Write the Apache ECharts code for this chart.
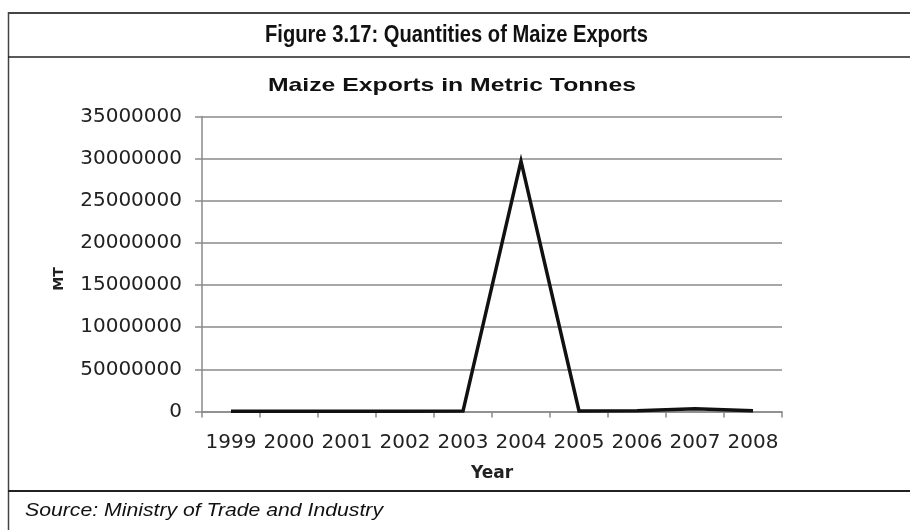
<!DOCTYPE html>
<html>
<head>
<meta charset="utf-8">
<script src="https://cdn.jsdelivr.net/npm/echarts@6/dist/echarts.min.js"></script>
<style>
  html, body { margin: 0; padding: 0; background: #fff; }
  #chart { width: 910px; height: 530px; }
</style>
</head>
<body>
<div id="chart"></div>
<script>
// Maize exports (metric tonnes) by year
const years = ['1999', '2000', '2001', '2002', '2003', '2004', '2005', '2006', '2007', '2008'];
const exportsMT = [40000, 30000, 20000, 30000, 50000, 29700000, 60000, 90000, 320000, 100000];
// Y-axis tick labels as printed in the figure
const yTickLabels = ['0', '50000000', '10000000', '15000000', '20000000', '25000000', '30000000', '35000000'];
const yStep = 5000000;

const figureTitle = 'Figure 3.17: Quantities of Maize Exports';
const chartTitle = 'Maize Exports in Metric Tonnes';
const sourceNote = 'Source: Ministry of Trade and Industry';

const chart = echarts.init(document.getElementById('chart'), null, { renderer: 'canvas' });

const axisGrey = '#8a8a8a';
const textDark = '#222';

// Horizontal scale that makes a string span the given width in the given font
const measureCtx = document.createElement('canvas').getContext('2d');
function fitScale(text, font, width) {
  measureCtx.font = font;
  return width / measureCtx.measureText(text).width;
}

// Text drawn as a graphic element, stretched horizontally to a set width
function stretchedText(text, x, y, width, weight, style, size, align) {
  const font = `${style} ${weight} ${size}px "Liberation Sans"`;
  return {
    type: 'text',
    x: x, y: y,
    scaleX: fitScale(text, font, width),
    style: {
      text: text,
      fontFamily: 'Liberation Sans',
      fontWeight: weight,
      fontStyle: style,
      fontSize: size,
      fill: '#111',
      align: align,
      verticalAlign: 'middle'
    },
    z: 10
  };
}

chart.setOption({
  animation: false,
  backgroundColor: '#fff',
  graphic: [
    { type: 'line', shape: { x1: 8, y1: 13, x2: 910, y2: 13 }, style: { stroke: '#444', lineWidth: 2 } },
    { type: 'line', shape: { x1: 8.5, y1: 12, x2: 8.5, y2: 530 }, style: { stroke: '#444', lineWidth: 1.5 } },
    { type: 'line', shape: { x1: 8, y1: 57, x2: 910, y2: 57 }, style: { stroke: '#222', lineWidth: 1.5 } },
    { type: 'line', shape: { x1: 8, y1: 491, x2: 910, y2: 491 }, style: { stroke: '#222', lineWidth: 2 } },
    stretchedText(figureTitle, 456.5, 35, 383, 'bold', 'normal', 24, 'center'),
    stretchedText(chartTitle, 452, 86, 368, 'bold', 'normal', 18.5, 'center'),
    stretchedText(sourceNote, 25, 511, 358, 'normal', 'italic', 19, 'left')
  ],
  grid: { left: 202, right: 128, top: 116.5, bottom: 118.5, containLabel: false },
  xAxis: {
    type: 'category',
    data: years,
    boundaryGap: true,
    name: 'Year',
    nameLocation: 'middle',
    nameGap: 54,
    nameTextStyle: { fontFamily: 'DejaVu Sans', fontWeight: 'bold', fontSize: 17, color: textDark },
    axisLine: { show: true, lineStyle: { color: axisGrey, width: 1.5 } },
    axisTick: { show: true, alignWithLabel: false, length: 6, lineStyle: { color: axisGrey, width: 1.5 } },
    axisLabel: { fontFamily: 'DejaVu Sans', fontSize: 20, color: textDark, margin: 21, interval: 0 },
    splitLine: { show: false }
  },
  yAxis: {
    type: 'value',
    min: 0,
    max: yStep * (yTickLabels.length - 1),
    interval: yStep,
    name: 'MT',
    nameLocation: 'middle',
    nameRotate: 90,
    nameGap: 136,
    nameTextStyle: { fontFamily: 'DejaVu Sans', fontWeight: 'bold', fontSize: 14, color: textDark, padding: [0, 30, 0, 0] },
    axisLine: { show: true, lineStyle: { color: axisGrey, width: 1.5 } },
    axisTick: { show: true, length: 7, lineStyle: { color: axisGrey, width: 1.5 } },
    axisLabel: {
      fontFamily: 'DejaVu Sans', fontSize: 20, color: textDark, margin: 20,
      formatter: v => yTickLabels[Math.round(v / yStep)]
    },
    splitLine: { show: true, lineStyle: { color: axisGrey, width: 1.5 } }
  },
  series: [{
    type: 'line',
    data: exportsMT,
    symbol: 'none',
    smooth: false,
    lineStyle: { color: '#111', width: 3.5, join: 'miter' },
    z: 5
  }]
});
</script>
</body>
</html>
